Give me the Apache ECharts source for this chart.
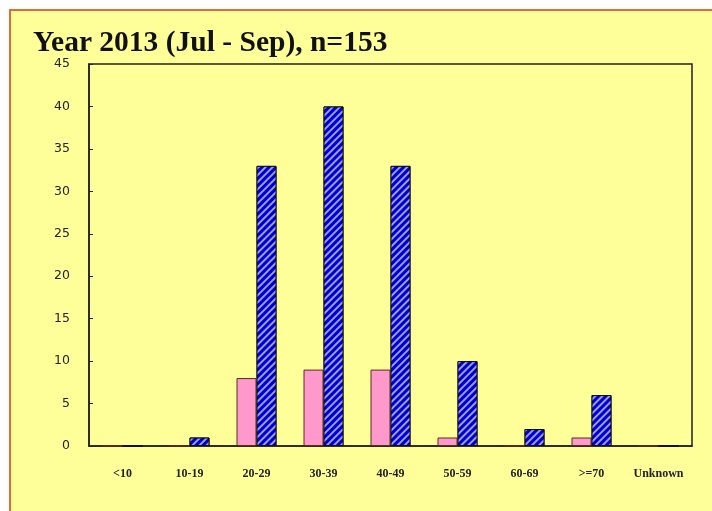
<!DOCTYPE html>
<html>
<head>
    <meta charset="utf-8">
    <title>ECharts</title>
    <script src="https://cdn.jsdelivr.net/npm/echarts@6/dist/echarts.min.js"></script>
    <style>
        body { margin: 0; background: #ffffff; }
        #frame {
            position: absolute; left: 9px; top: 9px; width: 720px; height: 520px;
            background: #FFFF99; border-left: 2px solid #D8703A; border-top: 2px solid #D8703A;
        }
        #main { position: absolute; left: 0; top: 0; width: 712px; height: 511px; }
    </style>
</head>
<body>
    <div id="frame"></div>
    <div id="main"></div>
    <script type="text/javascript">
        // age groups
        var categories = ['<10', '10-19', '20-29', '30-39', '40-49', '50-59', '60-69', '>=70', 'Unknown'];
        var pinkValues = [0, 0, 8, 9, 9, 1, 0, 1, 0];
        var blueValues = [0, 1, 33, 40, 33, 10, 2, 6, 0];
        var yTicks = [0, 5, 10, 15, 20, 25, 30, 35, 40, 45];

        var myChart = echarts.init(document.getElementById('main'));

        myChart.setOption({
            backgroundColor: 'transparent',
            title: {
                text: 'Year 2013 (Jul - Sep), n=153',
                left: 28,
                top: 23,
                textStyle: {
                    fontFamily: 'Liberation Serif',
                    fontWeight: 'bold',
                    fontSize: 29.5,
                    color: '#111'
                }
            },
            grid: {
                left: 89, top: 64, right: 20, bottom: 65,
                show: true,
                borderColor: '#222',
                borderWidth: 1.5,
                backgroundColor: 'transparent'
            },
            xAxis: {
                type: 'category',
                data: categories,
                axisLine: { lineStyle: { color: '#222', width: 1.5 } },
                axisTick: { inside: true, length: 4, lineStyle: { color: '#222' } },
                axisLabel: {
                    margin: 22,
                    fontFamily: 'Liberation Serif',
                    fontWeight: 'bold',
                    fontSize: 12,
                    color: '#222'
                }
            },
            yAxis: {
                type: 'value',
                min: yTicks[0],
                max: yTicks[yTicks.length - 1],
                interval: 5,
                splitLine: { show: false },
                axisLine: { show: true, lineStyle: { color: '#222', width: 1.5 } },
                axisTick: { show: true, inside: true, length: 4, lineStyle: { color: '#222' } },
                axisLabel: {
                    margin: 19,
                    fontFamily: 'DejaVu Sans',
                    fontSize: 12.5,
                    color: '#222'
                }
            },
            series: [{
                type: 'bar',
                data: pinkValues,
                barWidth: 20,
                barGap: '0%',
                itemStyle: { color: '#FF99CC', borderColor: '#5a2a2a', borderWidth: 1 }
            }, {
                type: 'bar',
                data: blueValues,
                barWidth: 20,
                itemStyle: {
                    color: '#0000CC',
                    borderColor: '#111',
                    borderWidth: 1,
                    decal: {
                        symbol: 'rect',
                        symbolSize: 1,
                        color: '#9A9AFF',
                        dashArrayX: [1, 0],
                        dashArrayY: [2, 2.5],
                        rotation: -Math.PI / 4
                    }
                }
            }]
        });
    </script>
</body>
</html>
